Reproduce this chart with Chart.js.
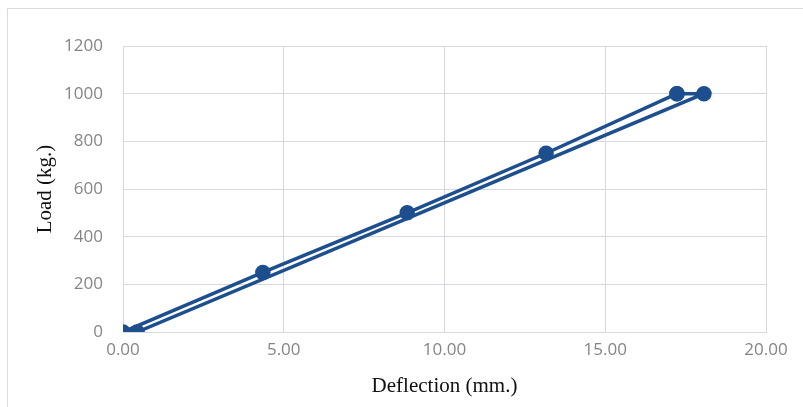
<!DOCTYPE html>
<html>
<head>
<meta charset="utf-8">
<script src="https://cdn.jsdelivr.net/npm/chart.js@4.4.1/dist/chart.umd.min.js"></script>
<style>
  html, body { margin: 0; padding: 0; background: #fff; }
  #wrap { width: 803px; height: 407px; position: relative; }
</style>
</head>
<body>
<div id="wrap"><canvas id="loadChart"></canvas></div>
<script>
  // Loading path (with markers) and unloading path
  const loadDefl   = [0.00, 4.35, 8.84, 13.16, 17.23];
  const loadValues = [0, 250, 500, 750, 1000];
  const unloadDefl   = [17.23, 18.07, 0.44];
  const unloadValues = [1000, 1000, 0];
  const yTicks = [0, 200, 400, 600, 800, 1000, 1200];
  const xTicks = [0, 5, 10, 15, 20];

  const blue = '#1d4f8e';
  const grid = '#d6d8e2';

  // thin frame around the chart like the scanned sheet
  const framePlugin = {
    id: 'frame',
    beforeDraw(chart) {
      const c = chart.ctx;
      c.save();
      c.strokeStyle = '#dcdcdc';
      c.lineWidth = 1;
      c.beginPath();
      c.moveTo(7.5, 407);
      c.lineTo(7.5, 8.5);
      c.lineTo(803, 8.5);
      c.stroke();
      c.restore();
    }
  };

  const toPoints = (xs, ys) => xs.map((x, i) => ({ x: x, y: ys[i] }));

  new Chart(document.getElementById('loadChart'), {
    type: 'scatter',
    data: {
      datasets: [
        {
          label: 'Unloading',
          data: toPoints(unloadDefl, unloadValues),
          showLine: true,
          borderColor: blue,
          borderWidth: 3.5,
          backgroundColor: blue,
          pointRadius: 6,
          tension: 0
        },
        {
          label: 'Loading',
          data: toPoints(loadDefl, loadValues),
          showLine: true,
          borderColor: blue,
          borderWidth: 3.5,
          backgroundColor: blue,
          pointRadius: 6,
          tension: 0
        }
      ]
    },
    options: {
      responsive: true,
      maintainAspectRatio: false,
      animation: false,
      layout: { padding: { left: 28, right: 37, top: 46, bottom: 8 } },
      plugins: {
        legend: { display: false },
        tooltip: { enabled: false }
      },
      scales: {
        x: {
          type: 'linear',
          min: 0,
          max: 20,
          afterBuildTicks: function(axis) {
            axis.ticks = xTicks.map(v => ({ value: v }));
          },
          afterFit: function(axis) { axis.height = 67; },
          grid: { color: grid, drawTicks: false },
          border: { color: grid },
          ticks: {
            padding: 8,
            color: '#858585',
            font: { family: "'Open Sans', sans-serif", size: 17 },
            callback: v => Number(v).toFixed(2)
          },
          title: {
            display: true,
            text: 'Deflection (mm.)',
            color: '#111',
            font: { family: "'Liberation Serif', serif", size: 21 },
            padding: { top: 0, bottom: 0 }
          }
        },
        y: {
          min: 0,
          max: 1200,
          afterBuildTicks: function(axis) {
            axis.ticks = yTicks.map(v => ({ value: v }));
          },
          afterFit: function(axis) { axis.width = 95; },
          grid: { color: grid, drawTicks: false },
          border: { color: grid },
          ticks: {
            padding: 20,
            color: '#858585',
            font: { family: "'Open Sans', sans-serif", size: 17 },
            callback: v => String(v)
          },
          title: {
            display: true,
            text: 'Load (kg.)',
            color: '#111',
            font: { family: "'Liberation Serif', serif", size: 21 },
            padding: { top: 5, bottom: 0 }
          }
        }
      }
    },
    plugins: [framePlugin]
  });
</script>
</body>
</html>
